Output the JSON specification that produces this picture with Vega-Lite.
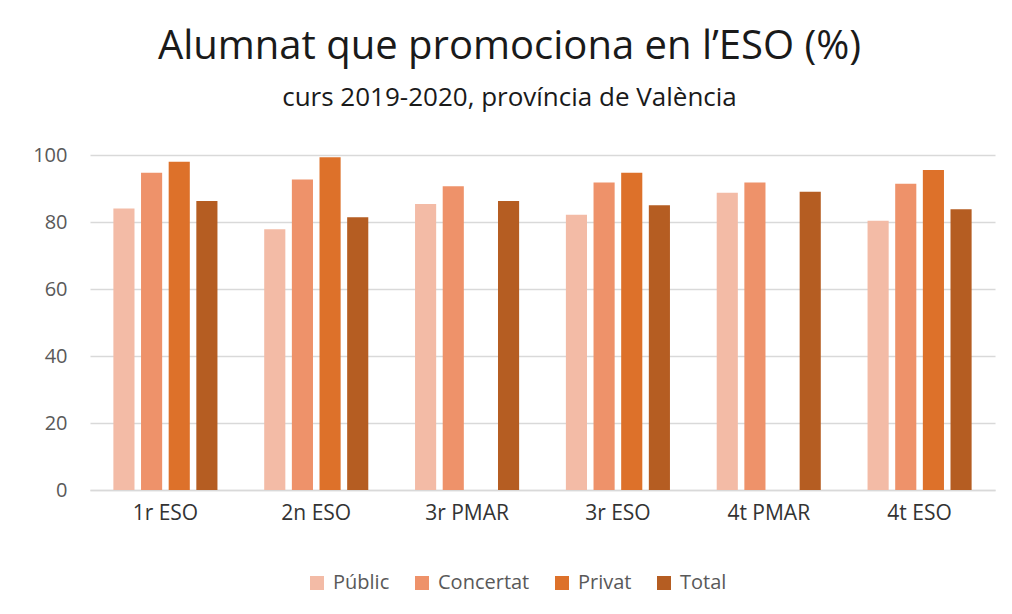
{
  "$schema": "https://vega.github.io/schema/vega-lite/v6.json",
  "width": 905,
  "height": 335,
  "autosize": {"type": "none"},
  "padding": {"left": 90, "top": 155, "right": 17, "bottom": 124},
  "background": "white",
  "title": {
    "text": "Alumnat que promociona en l’ESO (%)",
    "subtitle": "curs 2019-2020, província de València",
    "font": "Open Sans",
    "fontSize": 40,
    "fontWeight": "normal",
    "color": "#1a1a1a",
    "subtitleFont": "Open Sans",
    "subtitleFontSize": 26,
    "subtitleColor": "#1a1a1a",
    "subtitlePadding": 18,
    "anchor": "middle",
    "dx": -33,
    "offset": 34
  },
  "data": {
    "values": [
      {"curs": "1r ESO", "tipus": "Públic", "valor": 84},
      {"curs": "1r ESO", "tipus": "Concertat", "valor": 94.7},
      {"curs": "1r ESO", "tipus": "Privat", "valor": 98},
      {"curs": "1r ESO", "tipus": "Total", "valor": 86.3},
      {"curs": "2n ESO", "tipus": "Públic", "valor": 77.8},
      {"curs": "2n ESO", "tipus": "Concertat", "valor": 92.7},
      {"curs": "2n ESO", "tipus": "Privat", "valor": 99.3},
      {"curs": "2n ESO", "tipus": "Total", "valor": 81.4},
      {"curs": "3r PMAR", "tipus": "Públic", "valor": 85.4},
      {"curs": "3r PMAR", "tipus": "Concertat", "valor": 90.7},
      {"curs": "3r PMAR", "tipus": "Total", "valor": 86.3},
      {"curs": "3r ESO", "tipus": "Públic", "valor": 82.2},
      {"curs": "3r ESO", "tipus": "Concertat", "valor": 91.8},
      {"curs": "3r ESO", "tipus": "Privat", "valor": 94.7},
      {"curs": "3r ESO", "tipus": "Total", "valor": 85},
      {"curs": "4t PMAR", "tipus": "Públic", "valor": 88.7},
      {"curs": "4t PMAR", "tipus": "Concertat", "valor": 91.8},
      {"curs": "4t PMAR", "tipus": "Total", "valor": 89},
      {"curs": "4t ESO", "tipus": "Públic", "valor": 80.4},
      {"curs": "4t ESO", "tipus": "Concertat", "valor": 91.4},
      {"curs": "4t ESO", "tipus": "Privat", "valor": 95.5},
      {"curs": "4t ESO", "tipus": "Total", "valor": 83.8}
    ]
  },
  "mark": {"type": "bar"},
  "encoding": {
    "x": {
      "field": "curs",
      "type": "nominal",
      "sort": ["1r ESO", "2n ESO", "3r PMAR", "3r ESO", "4t PMAR", "4t ESO"],
      "scale": {"paddingInner": 0.31, "paddingOuter": 0.155},
      "axis": {
        "title": null,
        "labelAngle": 0,
        "labelFont": "Open Sans",
        "labelFontSize": 21,
        "labelColor": "#333333",
        "labelPadding": 12,
        "ticks": false,
        "domainColor": "#d9d9d9",
        "domainWidth": 1.5
      }
    },
    "xOffset": {
      "field": "tipus",
      "type": "nominal",
      "sort": ["Públic", "Concertat", "Privat", "Total"],
      "scale": {"paddingInner": 0.236, "paddingOuter": 0}
    },
    "y": {
      "field": "valor",
      "type": "quantitative",
      "scale": {"domain": [0, 100]},
      "axis": {
        "title": null,
        "values": [0, 20, 40, 60, 80, 100],
        "labelFont": "Open Sans",
        "labelFontSize": 20,
        "labelColor": "#595959",
        "labelPadding": 23,
        "ticks": false,
        "domain": false,
        "gridColor": "#d9d9d9",
        "gridWidth": 1.5
      }
    },
    "color": {
      "field": "tipus",
      "type": "nominal",
      "sort": ["Públic", "Concertat", "Privat", "Total"],
      "scale": {
        "domain": ["Públic", "Concertat", "Privat", "Total"],
        "range": ["#F3BBA6", "#EE926A", "#DD712A", "#B55D22"]
      },
      "legend": {
        "title": null,
        "orient": "none",
        "direction": "horizontal",
        "legendX": 217,
        "legendY": 418,
        "symbolType": "square",
        "symbolSize": 196,
        "symbolStrokeWidth": 0,
        "labelFont": "Open Sans",
        "labelFontSize": 20,
        "labelColor": "#595959",
        "columnPadding": 22,
        "labelOffset": 6
      }
    }
  },
  "config": {"view": {"stroke": null}}
}
